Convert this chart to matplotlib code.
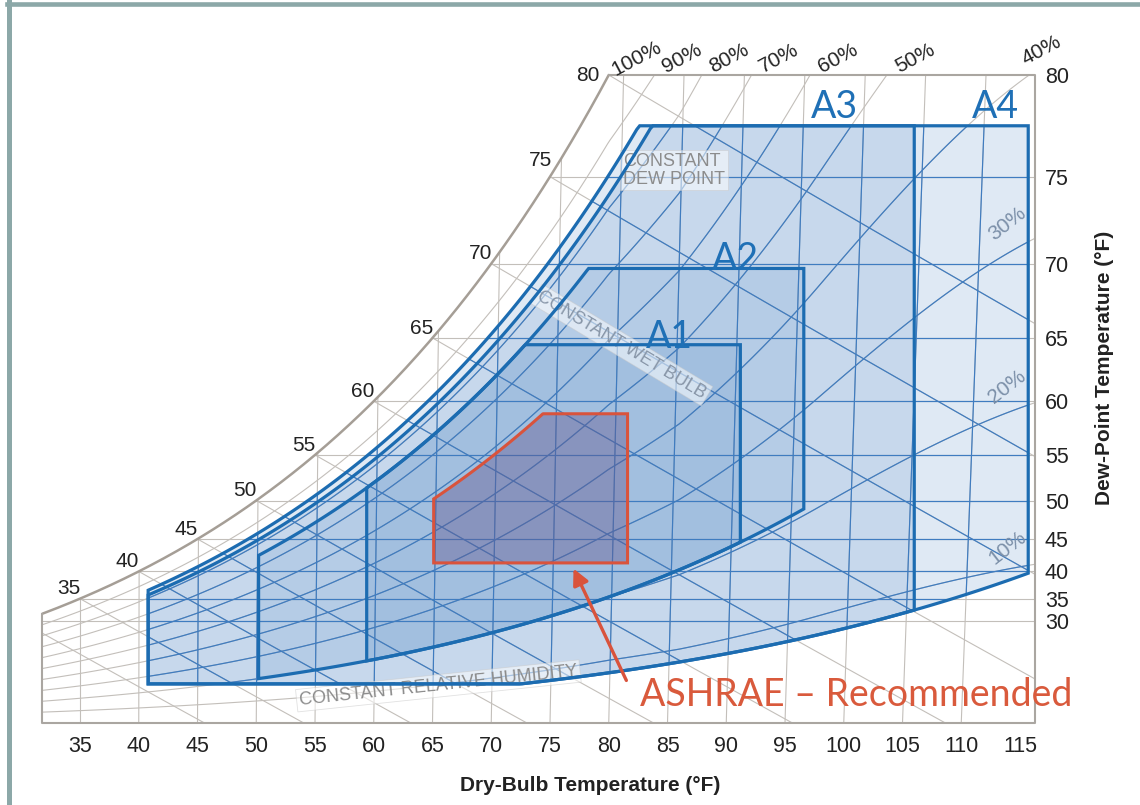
import numpy as np
import matplotlib
matplotlib.use("Agg")
import matplotlib.pyplot as plt
from matplotlib.patches import Polygon, FancyArrowPatch
from matplotlib.collections import LineCollection
from matplotlib.lines import Line2D

plt.rcParams['font.family'] = ['Liberation Sans', 'DejaVu Sans']

# ---------------- data ----------------
db_ticks = [35, 40, 45, 50, 55, 60, 65, 70, 75, 80, 85, 90, 95, 100, 105, 110, 115]
db_grid = [35, 40, 45, 50, 55, 60, 65, 70, 75, 80, 85, 90, 95, 100, 105, 110]
dp_ticks = [30, 35, 40, 45, 50, 55, 60, 65, 70, 75, 80]
sat_labels = [35, 40, 45, 50, 55, 60, 65, 70, 75, 80]
rh_lines = [10, 20, 30, 40, 50, 60, 70, 80, 90]
rh_top_labels = [100, 90, 80, 70, 60, 50, 40]
rh_side_labels = [30, 20, 10]
wb_lines = [30, 35, 40, 45, 50, 55, 60, 65, 70, 75, 80]

chart_db_min, chart_db_max = 31.8, 116.3     # frame of the chart (deg F)
chart_dp_top = 80                              # top line of the chart (dew point, deg F)

# ASHRAE envelopes: dry-bulb limits, dew-point limits, RH limits
env_names = ["A4", "A3", "A2", "A1"]
env_db_lo = [40.8, 40.8, 50.2, 59.4]
env_db_hi = [115.7, 106.0, 96.6, 91.2]
env_dp_lo = [7.8, 7.8, None, None]
env_dp_hi = [77.6, 77.6, 69.7, 64.5]
env_rh_lo = [8, 8, 20, 20]
env_rh_hi = [85, 82, 75, 75]
env_label_db = [112.9, 99.2, 90.8, 85.2]
env_label_dp = [78.5, 78.5, 70.3, 65.1]

rec_db = [65.1, 81.6]
rec_dp = [41.4, 58.9]
rec_rh_hi = 58.5

# ---------------- psychrometric scale ----------------
P_ATM = 101.325


def pws(t):
    tc = (np.asarray(t, float) - 32.0) / 1.8
    return 0.61094 * np.exp(17.625 * tc / (tc + 243.04))


def w_from_pw(pw):
    return 7000.0 * 0.622 * pw / (P_ATM - pw)


def w_dp(td):
    return w_from_pw(pws(td))


def w_rh(t, rh):
    return w_from_pw(rh / 100.0 * pws(t))


def t_from_pws(p):
    a = np.log(p / 0.61094)
    tc = 243.04 * a / (17.625 - a)
    return tc * 1.8 + 32


def w_wb(t, tw):
    ws = w_dp(tw) / 7000.0
    return 7000.0 * ((1093 - 0.556 * tw) * ws - 0.240 * (t - tw)) / (1093 + 0.444 * t - tw)


def grid_stretch(t):
    """The printed chart is drawn slightly stretched toward the warm side:
    position of a temperature t on the dry-bulb axis of the printed grid."""
    t = np.asarray(t, float)
    u = t.copy()
    for _ in range(40):
        d = 1.0 * np.clip((u - 80.0) / 6.0, 0, 1) + 0.016 * np.maximum(0, u - 98.0) ** 2
        u = t + d
    return u


W_TOP = float(w_dp(chart_dp_top))
PW_TOP = float(pws(chart_dp_top))
T_SAT_TOP = float(chart_dp_top)
DB_FAN = 0.0281          # dry-bulb lines fan out slightly toward the top of the chart

# ---------------- figure ----------------
FW, FH = 1140, 805
fig = plt.figure(figsize=(FW / 100, FH / 100), dpi=100)
fig.patch.set_facecolor('white')


def xpix(u):
    return 80 + (u - 35) * 11.75


Y_BOT, Y_TOP = 723, 75
ax = fig.add_axes([xpix(chart_db_min) / FW, (FH - Y_BOT) / FH,
                   (xpix(chart_db_max) - xpix(chart_db_min)) / FW, (Y_BOT - Y_TOP) / FH])
ax.set_xlim(chart_db_min, chart_db_max)
ax.set_ylim(0, W_TOP)
for s in ax.spines.values():
    s.set_visible(False)
ax.set_facecolor('none')

# frame of chart
ts = np.linspace(chart_db_min, T_SAT_TOP, 300)
sat = np.column_stack([ts, w_dp(ts)])
frame_pts = np.vstack([[[chart_db_min, 0]], sat, [[chart_db_max, W_TOP], [chart_db_max, 0]]])
frame_patch = Polygon(frame_pts, closed=True, facecolor='none', edgecolor='none')
ax.add_patch(frame_patch)

# grid segments
segs = []
for t in db_grid:
    segs.append(np.array([[t, 0], [35 + (t - 35) * (1 + DB_FAN), W_TOP]]))
for td in dp_ticks[:-1]:
    w = float(w_dp(td))
    segs.append(np.array([[chart_db_min, w], [chart_db_max, w]]))
tt = np.linspace(chart_db_min - 1, 118, 500)
for rh in rh_lines:
    segs.append(np.column_stack([grid_stretch(tt), w_rh(tt, rh)]))
for tw in wb_lines:
    t2 = np.linspace(tw - 1, tw + 90, 200)
    segs.append(np.column_stack([t2, w_wb(t2, tw)]))

gray = LineCollection(segs, colors='#c3bfba', linewidths=0.8, zorder=1)
gray.set_clip_path(frame_patch)
ax.add_collection(gray)

# chart outline
ax.plot(sat[:, 0], sat[:, 1], color='#a59e96', lw=1.8, zorder=1.5, clip_on=False,
        solid_capstyle='round')
ax.plot([T_SAT_TOP, chart_db_max, chart_db_max, chart_db_min, chart_db_min],
        [W_TOP, W_TOP, 0, 0, float(w_dp(chart_db_min))],
        color='#aaa6a1', lw=1.5, zorder=1.5, clip_on=False)


# envelopes
def envelope(db_lo, db_hi, dp_lo, dp_hi, rh_lo, rh_hi, n=300):
    t = np.linspace(db_lo, db_hi, n)
    upper = np.minimum(w_dp(dp_hi), w_rh(t, rh_hi))
    lower = np.zeros_like(t)
    if rh_lo is not None:
        lower = np.maximum(lower, w_rh(t, rh_lo))
    if dp_lo is not None:
        lower = np.maximum(lower, w_dp(dp_lo))
    return np.vstack([np.column_stack([t, upper]), np.column_stack([t[::-1], lower[::-1]])])


fill_alpha = [0.14, 0.12, 0.10, 0.12]
env_patches = []
for i, name in enumerate(env_names):
    pts = envelope(env_db_lo[i], env_db_hi[i], env_dp_lo[i], env_dp_hi[i],
                   env_rh_lo[i], env_rh_hi[i])
    p = Polygon(pts, closed=True, facecolor='#1f64b4', alpha=fill_alpha[i],
                edgecolor='none', zorder=2)
    ax.add_patch(p)
    env_patches.append(pts)

a4_clip = Polygon(env_patches[0], closed=True, facecolor='none', edgecolor='none')
ax.add_patch(a4_clip)
blue = LineCollection(segs, colors='#3f7cc0', linewidths=0.85, zorder=3)
blue.set_clip_path(a4_clip)
ax.add_collection(blue)

rec_pts = envelope(rec_db[0], rec_db[1], rec_dp[0], rec_dp[1], None, rec_rh_hi)
ax.add_patch(Polygon(rec_pts, closed=True, facecolor='#645a91', alpha=0.42,
                     edgecolor='none', zorder=3.5))

for pts in env_patches:
    ax.add_patch(Polygon(pts, closed=True, facecolor='none', edgecolor='#1c6cb1',
                         lw=2.3, joinstyle='miter', zorder=4))
ax.add_patch(Polygon(rec_pts, closed=True, facecolor='none', edgecolor='#d9533c',
                     lw=2.2, joinstyle='miter', zorder=4.5))

# envelope labels
for i, name in enumerate(env_names):
    ax.text(env_label_db[i], float(w_dp(env_label_dp[i])), name, fontsize=27,
            family=['Lato', 'DejaVu Sans'], color='#1f70b6', ha='center', va='center',
            zorder=6)

# saturation labels
for td in sat_labels:
    off = (-8, 7)
    if td == 75:
        off = (-7, 12)
    if td == 80:
        off = (-15, 0)
    ax.annotate(str(td), (td, float(w_dp(td))), xytext=off, textcoords='offset points',
                ha='center', va='center', fontsize=15, color='#222222',
                annotation_clip=False, zorder=6)

# RH labels at top
for rh in rh_top_labels:
    t_exit = float(grid_stretch(t_from_pws(PW_TOP / (rh / 100.0))))
    off = (20, 12)
    if rh == 100:
        t_exit = T_SAT_TOP
    if rh == 40:
        off = (9, 18)
    ax.annotate(f"{rh}%", (t_exit, W_TOP), xytext=off, textcoords='offset points',
                ha='center', va='center', rotation=28, rotation_mode='anchor',
                fontsize=15, color='#222222', annotation_clip=False, zorder=6)

# RH labels on right side (where the curves meet the A4 edge)
t_edge = np.linspace(100, 116, 2000)
for rh in rh_side_labels:
    u = env_db_hi[0]
    k = int(np.argmin(np.abs(grid_stretch(t_edge) - u)))
    ax.annotate(f"{rh}%", (u, float(w_rh(t_edge[k], rh))), xytext=(-15, 13),
                textcoords='offset points', ha='center', va='center', rotation=38,
                rotation_mode='anchor', fontsize=15, color='#7b8fa8',
                annotation_clip=False, zorder=6)

# "constant" labels
box = dict(boxstyle='square,pad=0.15', facecolor='white', alpha=0.55, edgecolor='#c9c9c9', lw=0.6)
ax.text(81.2, 132.5, "CONSTANT\nDEW POINT", fontsize=13, color='#8c8c8c', ha='left',
        va='center', linespacing=1.05, bbox=box, zorder=3.8)
ax.text(81.1, 90.6, "CONSTANT WET BULB", fontsize=13, color='#8896a8', ha='center',
        va='center', rotation=-31, rotation_mode='anchor', bbox=box, zorder=3.8)
ax.text(65.5, 8.9, "CONSTANT RELATIVE HUMIDITY", fontsize=13, color='#8c8c8c', ha='center',
        va='center', rotation=6, rotation_mode='anchor', bbox=box, zorder=3.8)

# ASHRAE recommended text + arrow
ax.text(82.7, 6.7, "ASHRAE \u2013 Recommended", fontsize=27, family=['Lato', 'DejaVu Sans'],
        color='#d95a3c', ha='left', va='center', zorder=6, clip_on=False)
ax.add_patch(FancyArrowPatch((81.6, 9.6), (76.9, 37.6), arrowstyle='-|>',
                             mutation_scale=24, lw=2.4, color='#d9533c', zorder=6))

# axes ticks
ax.set_xticks(db_ticks)
ax.set_xticklabels([str(v) for v in db_ticks])
ax.set_yticks([float(w_dp(v)) for v in dp_ticks])
ax.set_yticklabels([str(v) for v in dp_ticks])
ax.yaxis.set_ticks_position('right')
ax.tick_params(axis='x', length=0, pad=9, labelsize=15.5, colors='#222222')
ax.tick_params(axis='y', length=0, pad=7, labelsize=15.5, colors='#222222',
               labelright=True, labelleft=False)

fig.text(1105 / FW, 1 - 368 / FH, "Dew-Point Temperature (\u00b0F)", rotation=90,
         fontsize=15, fontweight='bold', ha='center', va='center', color='#222222')
fig.text(590 / FW, 1 - 785 / FH, "Dry-Bulb Temperature (\u00b0F)",
         fontsize=15, fontweight='bold', ha='center', va='center', color='#222222')

# slide frame
fig.add_artist(Line2D([7 / FW, 1], [1 - 4 / FH, 1 - 4 / FH], transform=fig.transFigure,
                      color='#8ca8a8', lw=3.3))
fig.add_artist(Line2D([9 / FW, 9 / FW], [0, 1 - 2 / FH], transform=fig.transFigure,
                      color='#8ca8a8', lw=3.6))

fig.savefig('out.png', dpi=100, facecolor='white')
